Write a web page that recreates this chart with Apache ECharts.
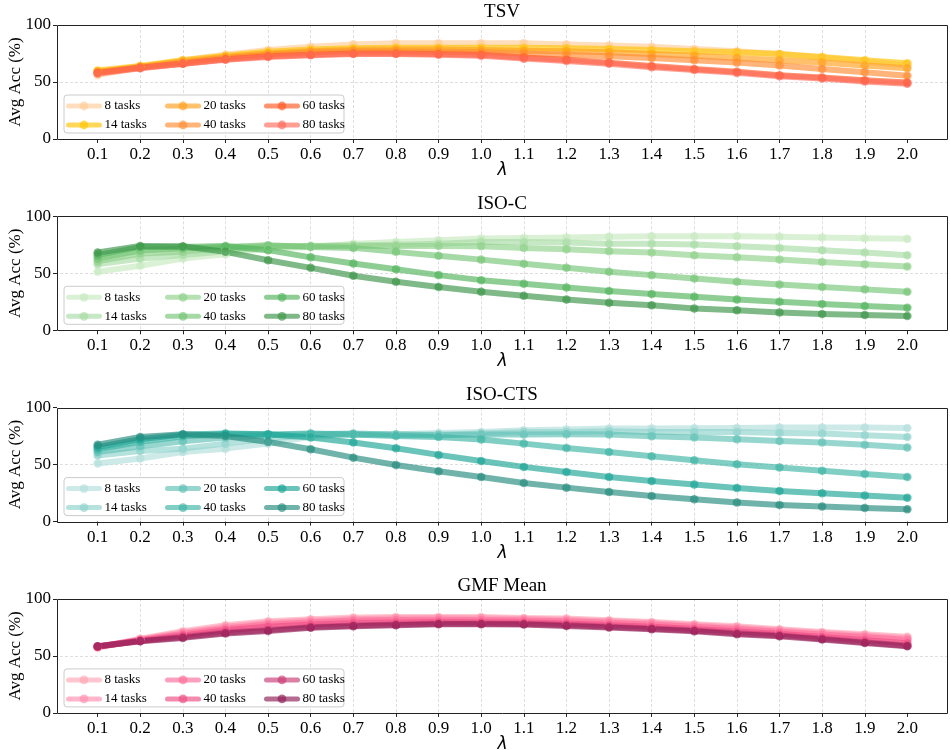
<!DOCTYPE html>
<html><head><meta charset="utf-8">
<script src="https://cdn.jsdelivr.net/npm/echarts@6/dist/echarts.min.js"></script>
<style>html,body{margin:0;padding:0;background:#fff}#c{width:950px;height:750px}</style>
</head><body><div id="c"></div>
<script>
// ---------- data ----------
const lambdas = [0.1,0.2,0.3,0.4,0.5,0.6,0.7,0.8,0.9,1.0,1.1,1.2,1.3,1.4,1.5,1.6,1.7,1.8,1.9,2.0];
const taskLabels = ['8 tasks','14 tasks','20 tasks','40 tasks','60 tasks','80 tasks'];
const panelTitles = ['TSV','ISO-C','ISO-CTS','GMF Mean'];
const yTicks = [0, 50, 100];

// TSV
const tsv8  = [56,63,69,74,78,81,83,84,84,84,84,83,82,81,79,77,74.5,71.5,68,64.5];
const tsv14 = [60,64,69,73,76.5,78.5,79.5,80,80,80,80,79.5,79,78,77,76,74.5,72,69,66.5];
const tsv20 = [59,63.5,68,72,75,77,78,78.5,78.5,78,77.5,77,76,74.5,73,71,69,67,64.5,62];
const tsv40 = [58.5,63,67,71,74,76,77,77,76.5,76,75,74,72.5,71,69,67,64.5,61.5,58.5,55.5];
const tsv60 = [58,62.5,66,70,72.5,74,75,75,74.5,74,71.5,69.5,67,64,61.5,59,56,54,51.5,49.5];
const tsv80 = [57.5,62,66,69.5,72,73.5,74.5,74.5,74,73,70.5,68.5,66,63,60.5,58,55,53,50.5,48.5];
// ISO-C
const isoc8  = [51.3,56.6,63,66.8,71.7,73,76,77.5,79,80.5,81,81.3,82,82.5,82.5,82.5,82,81.3,80.8,80.2];
const isoc14 = [58,63,66,69.4,73,74,74.6,75,76,77.5,77.5,77,76,76,75.2,73.8,72.3,70.3,68.2,65.9];
const isoc20 = [60.6,67.3,68.8,71.7,74,74,74,74,74,73.8,72.3,71.1,69.4,68.2,65.9,64.1,62.1,60,58,56];
const isoc40 = [63,70,71.7,73,74.6,73,72.3,68.8,65.3,62,58.3,54.8,51.3,48.4,45.5,42.6,40.2,37.9,35.9,33.8];
const isoc60 = [65.9,73,73,74,70.3,64,58.6,53.6,48.4,44,40.8,37.6,34.4,31.8,29.4,27.1,25.1,23,21.3,19.8];
const isoc80 = [68.2,74,73.8,68.8,61.5,54.8,47.8,42.6,37.9,33.8,30.3,27.1,24.2,21.9,19.2,17.5,15.7,14.3,13.4,12.5];
// ISO-CTS
const isocts8  = [51,55.3,61,64,68.4,74.3,76.3,76.6,77.8,78.7,80.1,80.7,81.6,81.6,81.8,82.2,82.5,82.5,82.5,82.2];
const isocts14 = [58,62,64,68.4,72.8,75.7,76.6,76.3,76.3,77.2,78.7,78.7,79.2,78.7,78.7,78.7,77.8,77.2,75.7,74.3];
const isocts20 = [61,66,70.5,73.7,75.7,76.6,77.2,76.3,75.7,76.3,76.3,76.6,76.3,74.9,73.7,72.2,70.8,69.3,67.5,64.9];
const isocts40 = [63.5,70,74.9,76.6,76.3,77.2,76.3,75.1,74.3,72,68.4,64.6,61.1,57.3,53.8,50.3,47.4,44.7,41.8,39.2];
const isocts60 = [65.5,72.2,76.3,77.2,76.6,73.7,69.3,64.3,58.5,53.2,48,43.6,39.2,35.7,32.5,29.5,26.9,24.9,22.8,21];
const isocts80 = [67.5,74.3,76.6,75.1,69.9,63.5,56.1,49.7,44.2,39.2,33.9,29.8,26,22.5,19.6,16.7,14.6,13.2,12,10.8];
// GMF Mean
const gmf8  = [57,65,71.6,76.9,80.4,82.2,83.6,84.2,84.2,84.2,83.3,82.7,81.3,79.8,77.8,76,73.4,71,69,66.7];
const gmf14 = [58,64.5,70.5,75.5,79,81,82.4,83,83.2,83,82.3,81.7,80.3,78.8,76.8,75,72.5,70,68,65.5];
const gmf20 = [58,64,69.5,74,77.5,79.5,81,81.5,81.8,81.6,81,80.4,79,77.5,75.5,73.6,71.2,68.7,66.5,64];
const gmf40 = [58,63.5,68,72.5,75.5,77.5,78.8,79.4,79.8,79.6,79.2,78.5,77,75.6,73.6,71.5,69.4,66.6,64,61];
const gmf60 = [58.3,63,66.5,70.5,72.8,75.3,76.6,77.5,78.3,78.2,78,77,75.6,74.1,72.3,69.8,68,65,62,59];
const gmf80 = [58.5,62.9,65.8,69.6,71.9,74.6,76,76.9,77.8,77.8,77.5,76.3,74.9,73.4,71.6,69,67.3,64.3,61.4,58.5];

const panelValues = [
  [tsv8, tsv14, tsv20, tsv40, tsv60, tsv80],
  [isoc8, isoc14, isoc20, isoc40, isoc60, isoc80],
  [isocts8, isocts14, isocts20, isocts40, isocts60, isocts80],
  [gmf8, gmf14, gmf20, gmf40, gmf60, gmf80]
];

// ---------- style ----------
const panelColors = [
  ['#ffcc99','#ffc300','#ff9f1c','#ff8c33','#ff5722','#ff6b5b'],
  ['#c7e9c0','#a8dba4','#8fd18b','#74c476','#52b35a','#3a9346'],
  ['#b2dfdb','#8fd3cc','#5fc0b5','#3cb3a5','#1aa595','#238a7c'],
  ['#ffa7b6','#ff8fb0','#ff6b9b','#ee4d82','#c93a73','#8e1c55']
];
const FONT = '"Liberation Serif","Times New Roman",serif';
const TOP0 = 25, STEP = 191.3, H = 114;
const FRAME_L = 57, FRAME_W = 890;

const grids=[], xAxes=[], yAxes=[], series=[], titles=[], legends=[], graphics=[];
const gridLine = {color:'#d6d6d6', type:[3,2], width:0.8};

panelTitles.forEach((title, i) => {
  const top = TOP0 + STEP * i;
  grids.push({left:55, right:0, top:top, height:H, show:false, containLabel:false, outerBoundsMode:'none'});
  xAxes.push({
    type:'value', gridIndex:i, min:0, max:2.1, interval:0.1,
    name:'λ', nameLocation:'middle', nameGap:23, nameMoveOverlap:false,
    nameTextStyle:{fontFamily:'DejaVu Sans', fontStyle:'italic', fontSize:17, color:'#000'},
    axisLine:{show:false},
    axisTick:{show:true, length:4, lineStyle:{color:'#222', width:1}, customValues: lambdas},
    axisLabel:{fontFamily:FONT, fontSize:17, color:'#000', margin:7, customValues: lambdas,
      formatter: v => (v > 0.05 && v < 2.05) ? Number(v).toFixed(1) : ''},
    splitLine:{show:true, showMinLine:false, showMaxLine:false, lineStyle:gridLine}
  });
  yAxes.push({
    type:'value', gridIndex:i, min:0, max:100, interval:50, offset:-2,
    name:'Avg Acc (%)', nameLocation:'middle', nameGap:33, nameMoveOverlap:false,
    nameTextStyle:{fontFamily:FONT, fontSize:17, color:'#000'},
    axisLine:{show:false},
    axisTick:{show:true, length:4, lineStyle:{color:'#222', width:1}},
    axisLabel:{fontFamily:FONT, fontSize:17, color:'#000', margin:6},
    splitLine:{show:true, showMinLine:false, showMaxLine:false, lineStyle:gridLine}
  });
  titles.push({
    text:title, left:502, top:3 + STEP * i, textAlign:'center', padding:0,
    textStyle:{fontFamily:FONT, fontSize:19, fontWeight:'normal', color:'#000'}
  });
  const names = taskLabels.map(l => title + '|' + l);
  for (let col = 0; col < 3; col++) {
    legends.push({
      orient:'vertical', left:66 + 99 * col, top: top + 74.5, padding:0,
      itemWidth:31, itemHeight:11, itemGap:6, selectedMode:false,
      data:names.slice(col * 2, col * 2 + 2), formatter: n => n.split('|')[1],
      textStyle:{fontFamily:FONT, fontSize:13, color:'#000'},
      lineStyle:{width:5}, z:4
    });
  }
  taskLabels.forEach((lab, k) => {
    const c = panelColors[i][k];
    series.push({
      type:'line', name: title + '|' + lab, xAxisIndex:i, yAxisIndex:i,
      data: lambdas.map((x, j) => [x, panelValues[i][k][j]]),
      symbol:'circle', symbolSize:8.5, showSymbol:true,
      lineStyle:{width:6, color:c, opacity:0.65, cap:'round', join:'round'},
      itemStyle:{color:c, opacity:0.65, borderWidth:0},
      emphasis:{disabled:true}, animation:false, z:2
    });
  });
  graphics.push({
    type:'rect', silent:true, z:3,
    shape:{x:64, y:top + 70, width:280, height:38, r:3},
    style:{fill:'rgba(255,255,255,0.8)', stroke:'#cccccc', lineWidth:1}
  });
  graphics.push({
    type:'rect', silent:true, z:10,
    shape:{x:FRAME_L + 0.5, y:Math.round(top) + 0.5, width:FRAME_W, height:H},
    style:{fill:null, stroke:'#222', lineWidth:1}
  });
});

const chart = echarts.init(document.getElementById('c'), null, {renderer:'canvas'});
chart.setOption({
  animation:false,
  backgroundColor:'#fff',
  title:titles, grid:grids, xAxis:xAxes, yAxis:yAxes, legend:legends, series:series,
  graphic:{elements:graphics}
});
</script>
</body></html>
